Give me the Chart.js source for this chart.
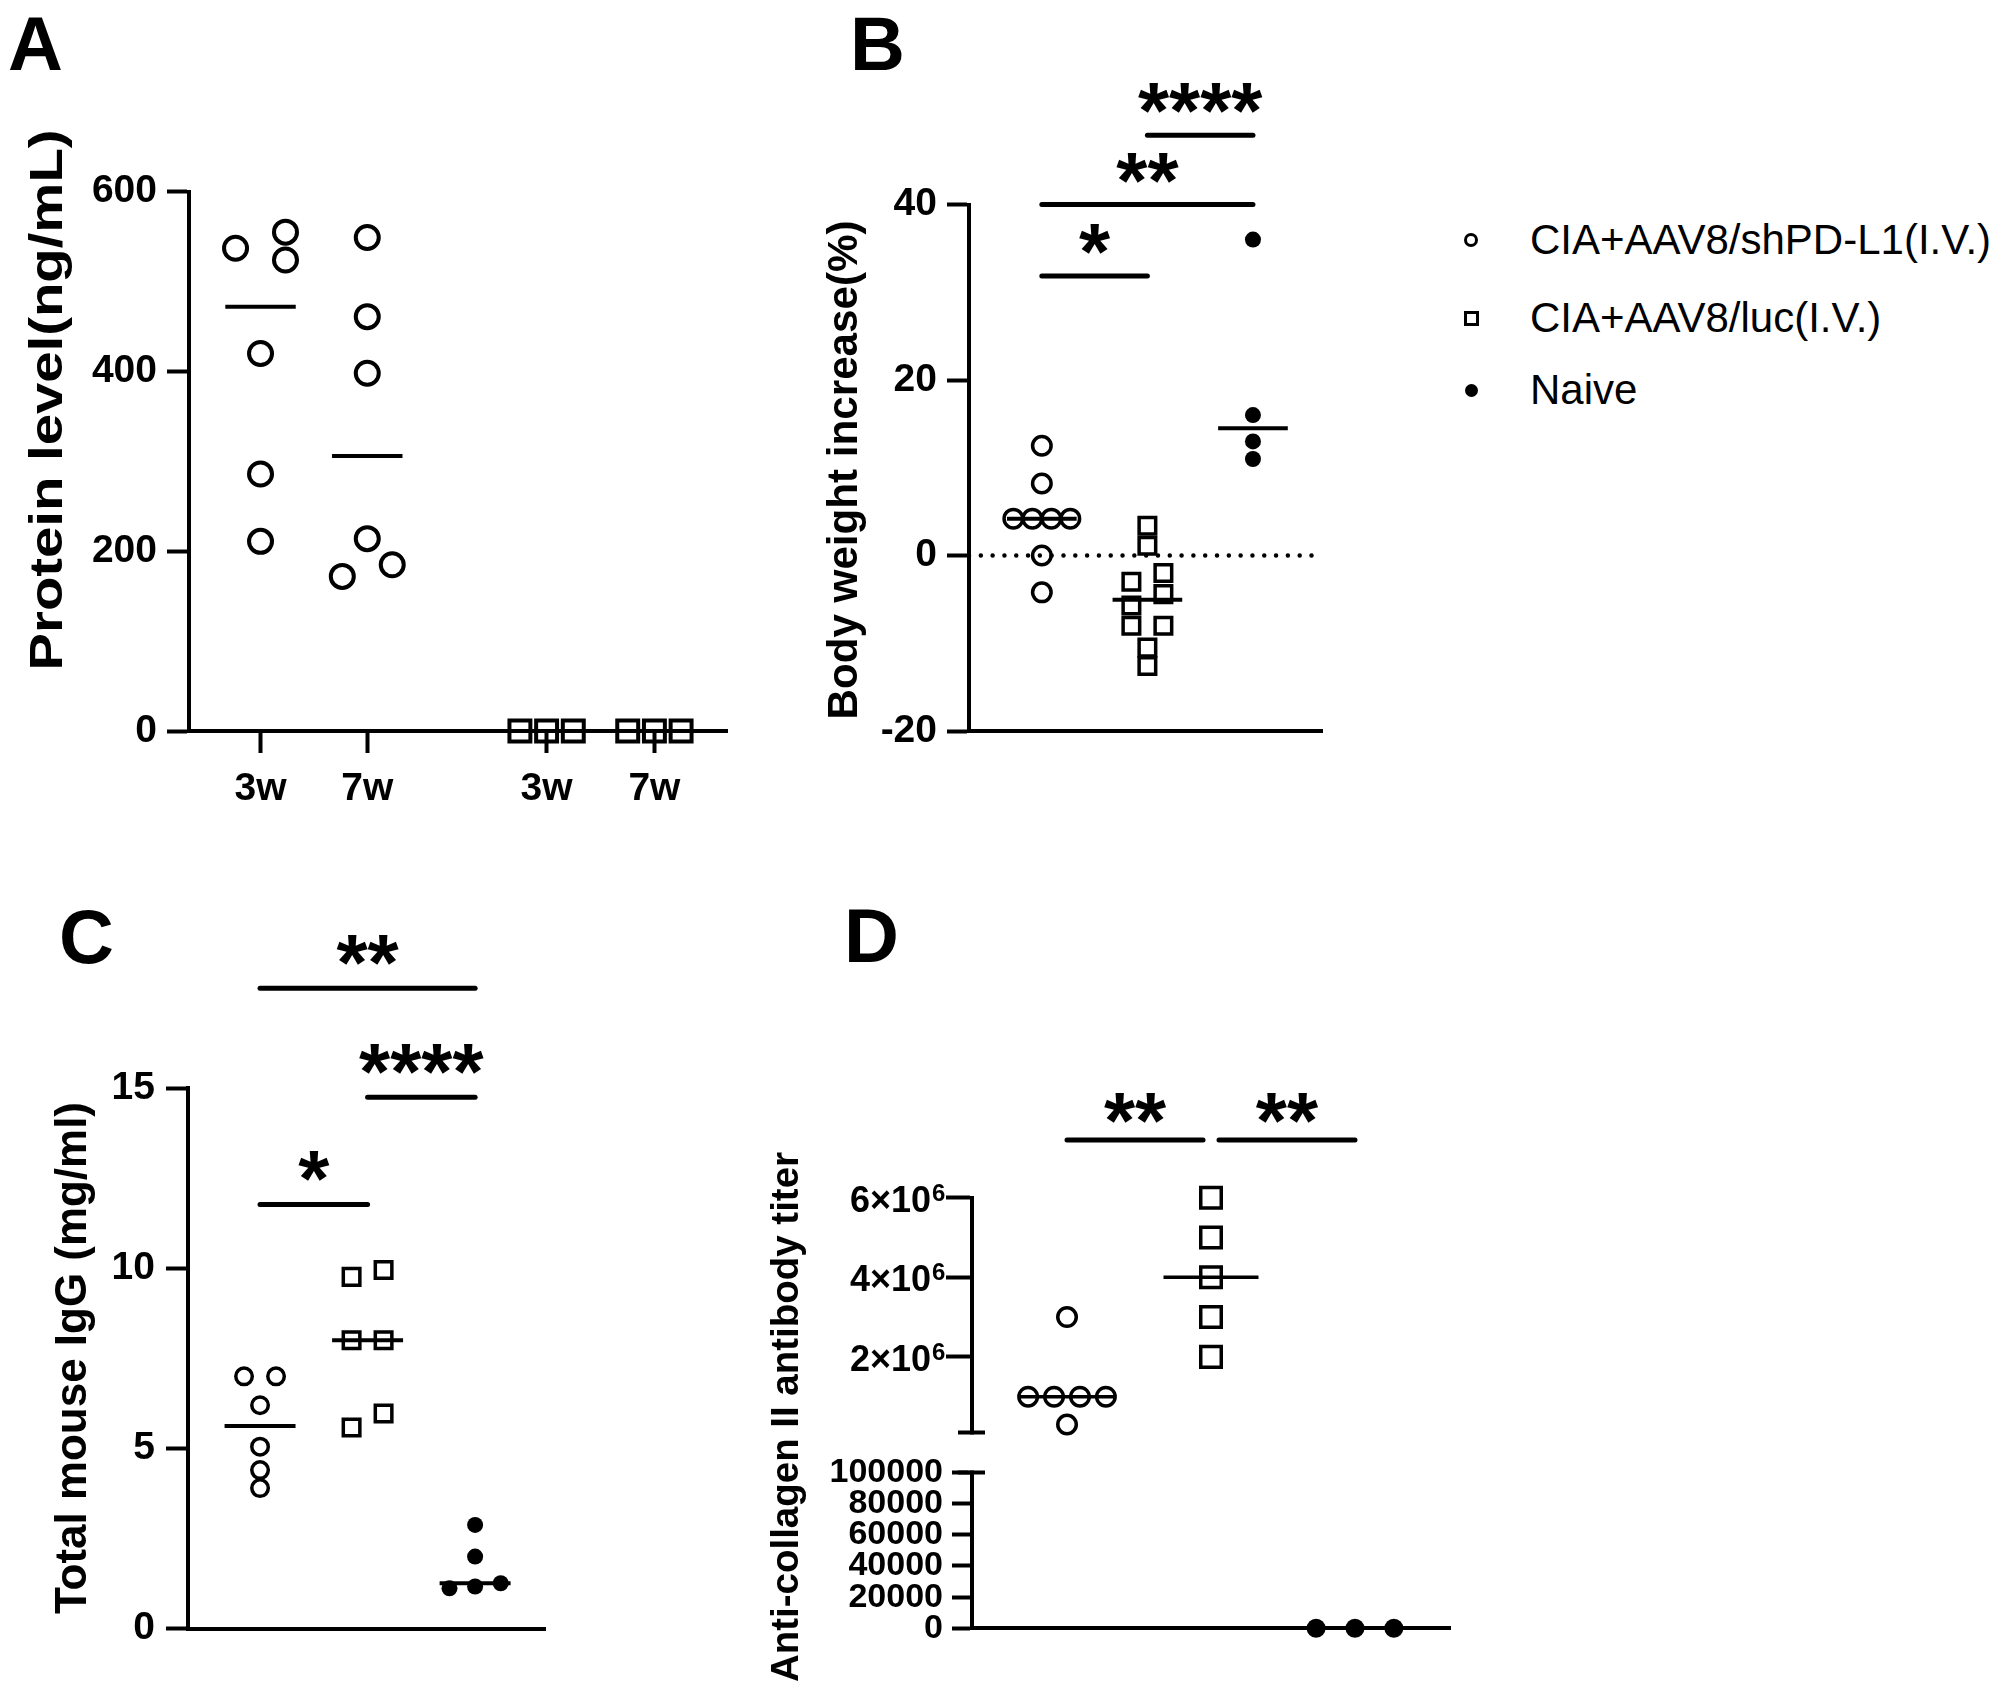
<!DOCTYPE html>
<html>
<head>
<meta charset="utf-8">
<script src="https://cdn.jsdelivr.net/npm/chart.js@4.4.1/dist/chart.umd.min.js"></script>
<style>
html,body{margin:0;padding:0;background:#fff;}
#page{position:relative;width:2000px;height:1688px;background:#fff;overflow:hidden;font-family:'Liberation Sans',Arial,Helvetica,sans-serif;color:#000;}
.panel{position:absolute;}
.panel canvas{display:block;}
.letter{position:absolute;font-weight:bold;font-size:76px;line-height:76px;color:#000;}
.lg-text{position:absolute;font-size:42px;line-height:42px;color:#000;white-space:nowrap;}
.lg-mark{position:absolute;box-sizing:border-box;}
</style>
</head>
<body>
<div id="page">
  <div class="letter" style="left:8px;top:6px">A</div>
  <div class="letter" style="left:850px;top:6px">B</div>
  <div class="letter" style="left:59px;top:899px">C</div>
  <div class="letter" style="left:844px;top:898px">D</div>

  <div class="panel" style="left:0px;top:0px;width:800px;height:844px"><canvas id="cA"></canvas></div>
  <div class="panel" style="left:800px;top:0px;width:560px;height:844px"><canvas id="cB"></canvas></div>
  <div class="panel" style="left:0px;top:844px;width:800px;height:844px"><canvas id="cC"></canvas></div>
  <div class="panel" style="left:760px;top:844px;width:740px;height:844px"><canvas id="cD"></canvas></div>

  <div id="legend"></div>
</div>
<script>
// ---------------- DATA ----------------
const LEGEND_LABELS = ['CIA+AAV8/shPD-L1(I.V.)', 'CIA+AAV8/luc(I.V.)', 'Naive'];

// Panel A: Protein level (ng/mL)
const A_GROUP_LABELS = ['3w', '7w', '3w', '7w'];
const A_SHPDL1_3W = [537, 555, 524, 420, 286, 211];
const A_SHPDL1_7W = [549, 461, 398, 214, 185, 172];
const A_LUC_3W = [0, 0, 0];
const A_LUC_7W = [0, 0, 0];
const A_Y_TICKS = [0, 200, 400, 600];

// Panel B: Body weight increase (%)
const B_SHPDL1 = [12.5, 8.2, 4.2, 4.2, 4.2, 4.2, 0, -4.2];
const B_LUC = [3.4, 1.1, -2.0, -3.0, -4.4, -5.7, -8.0, -8.0, -10.5, -12.6];
const B_NAIVE = [36, 16, 13, 11];
const B_Y_TICKS = [-20, 0, 20, 40];
const B_SIG_TEXT = ['****', '**', '*'];
const B_SIG_FROM = [2, 1, 1];
const B_SIG_TO = [3, 3, 2];
const B_SIG_Y = [47.9, 40, 31.85];

// Panel C: Total mouse IgG (mg/ml)
const C_SHPDL1 = [7.0, 7.0, 6.2, 5.05, 4.4, 3.9];
const C_LUC = [9.95, 9.76, 8.0, 8.0, 5.97, 5.58];
const C_NAIVE = [2.88, 2.0, 1.26, 1.17, 1.12];
const C_Y_TICKS = [0, 5, 10, 15];
const C_SIG_TEXT = ['**', '****', '*'];
const C_SIG_FROM = [1, 2, 1];
const C_SIG_TO = [3, 3, 2];
const C_SIG_Y = [17.77, 14.74, 11.77];

// Panel D: Anti-collagen II antibody titer
const D_SHPDL1 = [3000000, 1000000, 1000000, 1000000, 1000000, 300000];
const D_LUC = [6000000, 5000000, 4000000, 3000000, 2000000];
const D_NAIVE = [0, 0, 0];
const D_Y_TICKS_UPPER = [2000000, 4000000, 6000000];
const D_Y_TICKS_LOWER = [0, 20000, 40000, 60000, 80000, 100000];
const D_BREAK = 100000;
const D_EXPONENT = 6;
const D_SIG_TEXT = ['**', '**'];
const D_SIG_FROM = [1, 2];
const D_SIG_TO = [2, 3];
const D_SIG_Y = [7450000, 7450000];

// ---------------- HELPERS ----------------
const FONT = "'Liberation Sans', Arial, Helvetica, sans-serif";
Chart.defaults.font.family = FONT;
Chart.defaults.color = '#000';

function median(arr) {
  const s = [...arr].sort((a, b) => a - b);
  const n = s.length;
  return n % 2 ? s[(n - 1) / 2] : (s[n / 2 - 1] + s[n / 2]) / 2;
}

function pointSet(values, pos, mk, axis, spread) {
  return {
    type: 'scatter', showLine: false, clip: false, order: 2, yAxisID: axis,
    data: values.map(v => ({x: pos, y: v})),
    pointStyle: mk.style, pointRadius: mk.r, pointHoverRadius: mk.r,
    pointBorderWidth: mk.bw, pointHoverBorderWidth: mk.bw,
    pointBorderColor: '#000',
    pointBackgroundColor: mk.fill ? '#000' : 'rgba(0,0,0,0)',
    swarm: {center: pos, diam: mk.outer, s: spread.s * mk.outer, W: spread.W}
  };
}

function medianSet(values, pos, half, axis, width) {
  const m = median(values);
  return {
    type: 'scatter', showLine: true, clip: false, order: 1, yAxisID: axis,
    data: [{x: pos - half, y: m}, {x: pos + half, y: m}],
    borderColor: '#000', borderWidth: width, pointRadius: 0, pointHoverRadius: 0,
    borderCapStyle: 'butt', tension: 0, fill: false
  };
}

function yAxis(o) {
  return {
    type: 'linear', position: 'left', min: o.min, max: o.max,
    stack: o.stack, stackWeight: o.stackWeight,
    afterBuildTicks: s => { s.ticks = o.ticks.map(v => ({value: v})); },
    afterFit: s => { s.width = o.width; },
    ticks: {autoSkip: false, padding: o.pad, color: '#000', labelOffset: o.labelOffset || 0,
      font: {family: FONT, weight: 'bold', size: o.fs, lineHeight: 1},
      callback: o.fmt || (v => String(v))},
    grid: {drawOnChartArea: false, drawTicks: true, tickLength: o.tl, tickWidth: 4, tickColor: '#000'},
    border: {display: true, width: 4, color: '#000'}
  };
}

function xAxisPlain(min, max, h) {
  return {
    type: 'linear', position: 'bottom', min: min, max: max,
    afterFit: s => { s.height = h; },
    ticks: {display: false},
    grid: {drawOnChartArea: false, drawTicks: false},
    border: {display: true, width: 4, color: '#000'}
  };
}

// spread points of one group horizontally where they would overlap
function applySwarm(chart) {
  const xs = chart.scales.x;
  const unitPx = xs.getPixelForValue(2) - xs.getPixelForValue(1);
  chart.data.datasets.forEach(ds => {
    if (!ds.swarm) return;
    const ys = chart.scales[ds.yAxisID];
    const sw = ds.swarm;
    const thr = 0.85 * sw.diam, Wpx = sw.W * unitPx;
    const pts = ds.data.map((p, i) => ({i: i, py: ys.getPixelForValue(p.y)}));
    pts.sort((a, b) => a.py - b.py);
    let k = 0;
    while (k < pts.length) {
      let e = k + 1;
      while (e < pts.length && pts[e].py - pts[e - 1].py < thr) e++;
      const cl = pts.slice(k, e);
      const cols = [];
      cl.forEach(p => {
        let c = cols.findIndex(col => Math.abs(p.py - col[col.length - 1].py) >= thr);
        if (c < 0) { cols.push([p]); c = cols.length - 1; } else { cols[c].push(p); }
        p.col = c;
      });
      const n = cols.length;
      cl.forEach(p => { ds.data[p.i].x = sw.center; });
      if (n > 1) {
        const allTies = cl.every(p => Math.abs(p.py - cl[0].py) < 1);
        const span = (allTies && n >= 3) ? Wpx : Math.min((n - 1) * sw.s, Wpx);
        cl.forEach(p => {
          const off = span / 2 - p.col * span / (n - 1);
          ds.data[p.i].x = sw.center + off / unitPx;
        });
      }
      k = e;
    }
  });
  chart.update('none');
}

// significance bars and asterisks
const sigPlugin = {
  id: 'sig',
  afterDatasetsDraw(chart, args, o) {
    if (!o || !o.text) return;
    const ctx = chart.ctx, xs = chart.scales.x, ys = chart.scales[o.axis];
    ctx.save();
    ctx.strokeStyle = '#000'; ctx.fillStyle = '#000';
    ctx.lineWidth = o.lineWidth; ctx.lineCap = 'round';
    ctx.font = 'bold 80px ' + FONT;
    ctx.textAlign = 'center'; ctx.textBaseline = 'alphabetic';
    o.text.forEach((txt, i) => {
      const a = o.from[i], b = o.to[i], y = o.y[i];
      let x1 = xs.getPixelForValue(a), x2 = xs.getPixelForValue(b);
      o.text.forEach((t2, j) => {
        if (j === i || o.y[j] !== y) return;
        if (o.to[j] === a) x1 += o.inset;
        if (o.from[j] === b) x2 -= o.inset;
      });
      const py = ys.getPixelForValue(y);
      ctx.beginPath(); ctx.moveTo(x1, py); ctx.lineTo(x2, py); ctx.stroke();
      const m = ctx.measureText(txt);
      const cy = py - o.gap;
      const base = cy + (m.actualBoundingBoxAscent - m.actualBoundingBoxDescent) / 2;
      ctx.fillText(txt, (x1 + x2) / 2, base);
    });
    ctx.restore();
  }
};

// rotated y-axis title
const titlePlugin = {
  id: 'ytitle',
  afterDraw(chart, args, o) {
    if (!o || !o.text) return;
    const ctx = chart.ctx;
    ctx.save();
    ctx.font = 'bold ' + o.size + 'px ' + FONT;
    ctx.fillStyle = '#000';
    const m = ctx.measureText(o.text);
    ctx.translate(o.x, o.y);
    ctx.rotate(-Math.PI / 2);
    ctx.scale(o.length / m.width, 1);
    ctx.textAlign = 'center'; ctx.textBaseline = 'alphabetic';
    ctx.fillText(o.text, 0, (m.actualBoundingBoxAscent - m.actualBoundingBoxDescent) / 2);
    ctx.restore();
  }
};

// axis break + exponent superscripts for panel D
const breakPlugin = {
  id: 'axisBreak',
  afterDraw(chart, args, o) {
    if (!o || !o.enabled) return;
    const ctx = chart.ctx;
    const hi = chart.scales.yHi, lo = chart.scales.yLo;
    const ax = chart.chartArea.left;
    const yTop = hi.getPixelForValue(D_BREAK);
    const yBot = lo.getPixelForValue(D_BREAK);
    ctx.save();
    ctx.fillStyle = '#fff';
    ctx.fillRect(ax - 4, yTop + 2, 8, (yBot - 2) - (yTop + 2));
    ctx.strokeStyle = '#000'; ctx.lineWidth = 4; ctx.lineCap = 'butt';
    ctx.beginPath();
    ctx.moveTo(ax - 14, yTop); ctx.lineTo(ax + 13, yTop);
    ctx.moveTo(ax - 14, yBot); ctx.lineTo(ax + 13, yBot);
    ctx.stroke();
    // superscript exponents after the "n×10" tick labels
    ctx.fillStyle = '#000';
    ctx.font = 'bold ' + o.supSize + 'px ' + FONT;
    ctx.textAlign = 'left'; ctx.textBaseline = 'alphabetic';
    hi.ticks.forEach(t => {
      const py = hi.getPixelForValue(t.value) + o.labelOffset;
      ctx.fillText(String(D_EXPONENT), ax - o.tl - o.pad + 1, py + o.supBase);
    });
    ctx.restore();
  }
};

function baseOptions(padding) {
  return {
    responsive: true, maintainAspectRatio: false, animation: false, devicePixelRatio: 1,
    events: [],
    layout: {padding: padding},
    plugins: {legend: {display: false}, tooltip: {enabled: false}}
  };
}

// ---------------- PANEL A ----------------
(function () {
  const POS = [1, 2, 3.68, 4.69];
  const circ = {style: 'circle', r: 11.5, bw: 4, fill: false, outer: 27};
  const sq = {style: 'rect', r: 14.8, bw: 4, fill: false, outer: 25};
  const spread = {s: 1.85, W: 0.5};
  const ds = [
    pointSet(A_SHPDL1_3W, POS[0], circ, 'y', spread),
    pointSet(A_SHPDL1_7W, POS[1], circ, 'y', spread),
    pointSet(A_LUC_3W, POS[2], sq, 'y', spread),
    pointSet(A_LUC_7W, POS[3], sq, 'y', spread),
    medianSet(A_SHPDL1_3W, POS[0], 0.33, 'y', 4),
    medianSet(A_SHPDL1_7W, POS[1], 0.33, 'y', 4),
    medianSet(A_LUC_3W, POS[2], 0.33, 'y', 4),
    medianSet(A_LUC_7W, POS[3], 0.33, 'y', 4)
  ];
  const opt = baseOptions({left: 0, top: 191.7, right: 73, bottom: 23});
  opt.plugins.ytitle = {text: 'Protein level(ng/mL)', size: 46, x: 50, y: 400, length: 541};
  opt.scales = {
    x: {
      type: 'linear', position: 'bottom', min: 0.33, max: 5.37,
      afterBuildTicks: s => { s.ticks = POS.map(v => ({value: v})); },
      afterFit: s => { s.height = 90; },
      ticks: {autoSkip: false, maxRotation: 0, padding: 17, color: '#000',
        font: {family: FONT, weight: 'bold', size: 39, lineHeight: 1},
        callback: (v, i) => A_GROUP_LABELS[i]},
      grid: {drawOnChartArea: false, drawTicks: true, tickLength: 22, tickWidth: 4, tickColor: '#000'},
      border: {display: true, width: 4, color: '#000'}
    },
    y: yAxis({min: 0, max: 600, ticks: A_Y_TICKS, width: 189, pad: 10, fs: 39, tl: 22})
  };
  const ch = new Chart(document.getElementById('cA'), {type: 'scatter', data: {datasets: ds}, options: opt, plugins: [titlePlugin]});
  applySwarm(ch);
})();

// ---------------- PANEL B ----------------
(function () {
  const circ = {style: 'circle', r: 9.25, bw: 3.5, fill: false, outer: 22};
  const sq = {style: 'rect', r: 11.7, bw: 3.5, fill: false, outer: 20};
  const dot = {style: 'circle', r: 8, bw: 0, fill: true, outer: 16};
  const spread = {s: 1.6, W: 0.54};
  const XMIN = 0.31, XMAX = 3.654;
  const ds = [
    pointSet(B_SHPDL1, 1, circ, 'y', spread),
    pointSet(B_LUC, 2, sq, 'y', spread),
    pointSet(B_NAIVE, 3, dot, 'y', spread),
    medianSet(B_SHPDL1, 1, 0.33, 'y', 4),
    medianSet(B_LUC, 2, 0.33, 'y', 4),
    medianSet(B_NAIVE, 3, 0.33, 'y', 4),
    {type: 'scatter', showLine: true, clip: false, order: 3, yAxisID: 'y',
      data: [{x: XMIN, y: 0}, {x: XMAX, y: 0}],
      borderColor: '#000', borderWidth: 4.5, borderDash: [0.01, 11.8], borderCapStyle: 'round',
      pointRadius: 0, pointHoverRadius: 0, fill: false}
  ];
  const opt = baseOptions({left: 0, top: 204.5, right: 38, bottom: 103});
  opt.plugins.ytitle = {text: 'Body weight increase(%)', size: 42, x: 46, y: 470, length: 499};
  opt.plugins.sig = {text: B_SIG_TEXT, from: B_SIG_FROM, to: B_SIG_TO, y: B_SIG_Y, axis: 'y', gap: 37, lineWidth: 5, inset: 0};
  opt.scales = {
    x: xAxisPlain(XMIN, XMAX, 10),
    y: yAxis({min: -20, max: 40, ticks: B_Y_TICKS, width: 169, pad: 10, fs: 39, tl: 22})
  };
  const ch = new Chart(document.getElementById('cB'), {type: 'scatter', data: {datasets: ds}, options: opt, plugins: [titlePlugin, sigPlugin]});
  applySwarm(ch);
})();

// ---------------- PANEL C ----------------
(function () {
  const circ = {style: 'circle', r: 8.25, bw: 3.5, fill: false, outer: 20};
  const sq = {style: 'rect', r: 11.7, bw: 3.5, fill: false, outer: 20};
  const dot = {style: 'circle', r: 8, bw: 0, fill: true, outer: 16};
  const spread = {s: 1.6, W: 0.54};
  const ds = [
    pointSet(C_SHPDL1, 1, circ, 'y', spread),
    pointSet(C_LUC, 2, sq, 'y', spread),
    pointSet(C_NAIVE, 3, dot, 'y', spread),
    medianSet(C_SHPDL1, 1, 0.33, 'y', 4),
    medianSet(C_LUC, 2, 0.33, 'y', 4),
    medianSet(C_NAIVE, 3, 0.33, 'y', 4)
  ];
  const opt = baseOptions({left: 0, top: 244, right: 255, bottom: 49.3});
  opt.plugins.ytitle = {text: 'Total mouse IgG (mg/ml)', size: 44, x: 74, y: 514, length: 512};
  opt.plugins.sig = {text: C_SIG_TEXT, from: C_SIG_FROM, to: C_SIG_TO, y: C_SIG_Y, axis: 'y', gap: 38, lineWidth: 5, inset: 0};
  opt.scales = {
    x: xAxisPlain(0.33, 3.65, 10),
    y: yAxis({min: 0, max: 15, ticks: C_Y_TICKS, width: 188, pad: 11, fs: 39, tl: 22})
  };
  const ch = new Chart(document.getElementById('cC'), {type: 'scatter', data: {datasets: ds}, options: opt, plugins: [titlePlugin, sigPlugin]});
  applySwarm(ch);
})();

// ---------------- PANEL D ----------------
(function () {
  const circ = {style: 'circle', r: 9.25, bw: 3.5, fill: false, outer: 22};
  const sq = {style: 'rect', r: 14.5, bw: 3.5, fill: false, outer: 24};
  const dot = {style: 'circle', r: 9.5, bw: 0, fill: true, outer: 19};
  const spread = {s: 1.6, W: 0.54};
  const ds = [
    pointSet(D_SHPDL1, 1, circ, 'yHi', spread),
    pointSet(D_LUC, 2, sq, 'yHi', spread),
    pointSet(D_NAIVE, 3, dot, 'yLo', spread),
    medianSet(D_SHPDL1, 1, 0.33, 'yHi', 3.5),
    medianSet(D_LUC, 2, 0.33, 'yHi', 3.5),
    medianSet(D_NAIVE, 3, 0.33, 'yLo', 3.5)
  ];
  const HI_TL = 26, HI_PAD = 15, HI_OFF = 4;
  const opt = baseOptions({left: 0, top: 353.7, right: 50, bottom: 49.7});
  opt.plugins.ytitle = {text: 'Anti-collagen II antibody titer', size: 38, x: 28, y: 573, length: 530};
  opt.plugins.sig = {text: D_SIG_TEXT, from: D_SIG_FROM, to: D_SIG_TO, y: D_SIG_Y, axis: 'yHi', gap: 32, lineWidth: 5, inset: 8};
  opt.plugins.axisBreak = {enabled: true, tl: HI_TL, pad: HI_PAD, labelOffset: HI_OFF, supSize: 24, supBase: -1};
  const sci = v => (v / Math.pow(10, D_EXPONENT)) + '\u00D710';
  opt.scales = {
    x: xAxisPlain(0.34, 3.66, 10),
    yLo: yAxis({min: 0, max: D_BREAK, ticks: D_Y_TICKS_LOWER, width: 212, pad: 9, fs: 34, tl: 20,
      stack: 'dstack', stackWeight: 155.6}),
    yHi: yAxis({min: -906000, max: 6000000, ticks: D_Y_TICKS_UPPER, width: 212, pad: HI_PAD, fs: 36, tl: HI_TL,
      stack: 'dstack', stackWeight: 274.5, fmt: sci, labelOffset: HI_OFF})
  };
  const ch = new Chart(document.getElementById('cD'), {type: 'scatter', data: {datasets: ds}, options: opt, plugins: [titlePlugin, sigPlugin, breakPlugin]});
  applySwarm(ch);
})();

// ---------------- LEGEND ----------------
(function () {
  const lg = document.getElementById('legend');
  const rows = [240, 318, 390];
  const marks = [
    'left:1464px;width:14px;height:14px;border:3px solid #000;border-radius:50%;',
    'left:1464px;width:15px;height:15px;border:3px solid #000;',
    'left:1464.5px;width:13px;height:13px;background:#000;border-radius:50%;'
  ];
  const sizes = [14, 15, 13];
  LEGEND_LABELS.forEach((t, i) => {
    const m = document.createElement('div');
    m.className = 'lg-mark';
    m.style.cssText = marks[i] + 'top:' + (rows[i] - sizes[i] / 2) + 'px;';
    lg.appendChild(m);
    const d = document.createElement('div');
    d.className = 'lg-text';
    d.style.left = '1530px';
    d.style.top = (rows[i] - 21) + 'px';
    d.textContent = t;
    lg.appendChild(d);
  });
})();
</script>
</body>
</html>
